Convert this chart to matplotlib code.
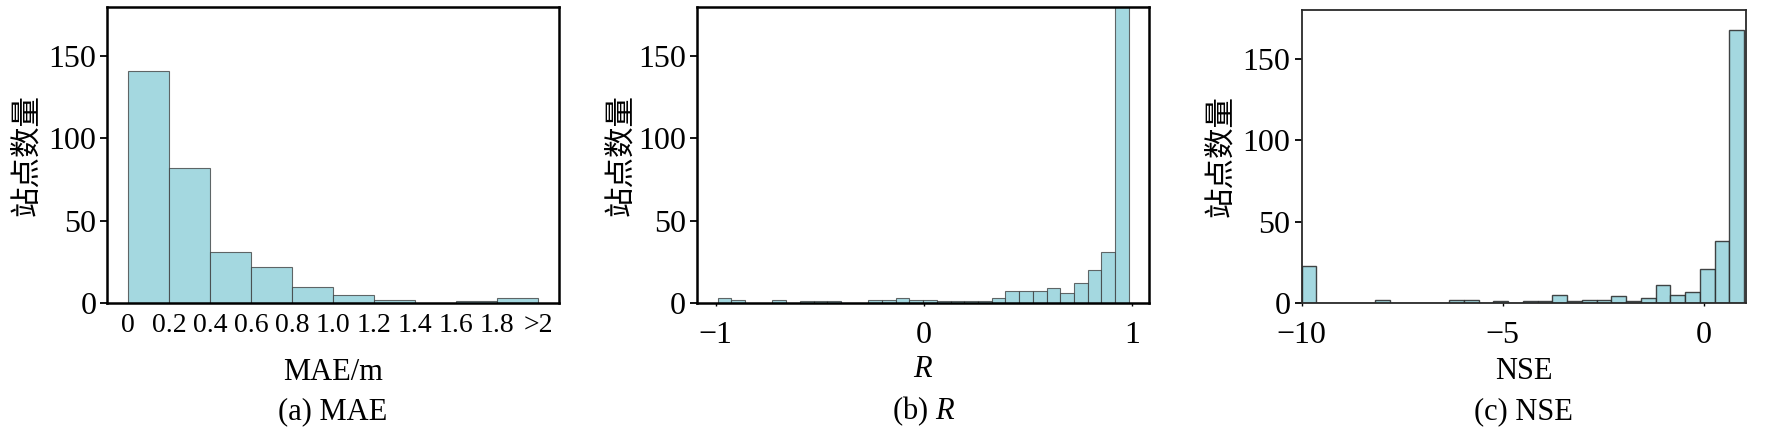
import numpy as np
import matplotlib
matplotlib.use("Agg")
import matplotlib.pyplot as plt

plt.rcParams['font.family'] = ['Liberation Serif', 'Noto Sans CJK SC']
plt.rcParams['mathtext.fontset'] = 'custom'
plt.rcParams['mathtext.rm'] = 'Liberation Serif'
plt.rcParams['mathtext.it'] = 'Liberation Serif:italic'

# --- data ---
# (a) MAE, bins of 0.2 m, last bin labelled ">2"
mae_edges = [0.0, 0.2, 0.4, 0.6, 0.8, 1.0, 1.2, 1.4, 1.6, 1.8, 2.0]
mae_counts = [141, 82, 31, 22, 10, 5, 2, 0, 1, 3]
mae_ticklabels = ['0', '0.2', '0.4', '0.6', '0.8', '1.0', '1.2', '1.4', '1.6', '1.8', '>2']

# (b) R, 30 bins between the min and max of R
r_lo, r_hi = -0.99, 0.983
r_counts = [3, 2, 0, 0, 2, 0, 1, 1, 1, 0,
            0, 2, 2, 3, 2, 2, 1, 1, 1, 1,
            3, 7, 7, 7, 9, 6, 12, 20, 31, 185]

# (c) NSE clipped at -10, 30 bins
nse_lo, nse_hi = -10.0, 0.995
nse_counts = [23, 0, 0, 0, 0, 2, 0, 0, 0, 0,
              2, 2, 0, 1, 0, 1, 1, 5, 1, 2,
              2, 4, 1, 3, 11, 5, 7, 21, 38, 168]

ylabel = '站点数量'
fill = '#a4d8e0'
edge = (0.22, 0.22, 0.22, 0.75)

fig = plt.figure(figsize=(17.66, 4.38), dpi=100)
ax_a = fig.add_axes([0.0608, 0.3082, 0.2556, 0.6765])
ax_b = fig.add_axes([0.3947, 0.3082, 0.2561, 0.6765])
ax_c = fig.add_axes([0.7371, 0.3082, 0.2515, 0.6690])

# (a)
ax_a.hist(mae_edges[:-1], bins=mae_edges, weights=mae_counts,
          color=fill, edgecolor=edge, linewidth=0.8)
ax_a.set_xlim(-0.1, 2.1)
ax_a.set_xticks(mae_edges)
ax_a.set_xticklabels(mae_ticklabels)
ax_a.tick_params(axis='x', length=0, pad=7, labelsize=20)

# (b)
r_edges = np.linspace(r_lo, r_hi, len(r_counts) + 1)
ax_b.hist(r_edges[:-1], bins=r_edges, weights=r_counts,
          color=fill, edgecolor=edge, linewidth=0.8)
span = r_hi - r_lo
ax_b.set_xlim(r_lo - 0.05 * span, r_hi + 0.05 * span)
ax_b.set_xticks([-1, 0, 1])
ax_b.tick_params(axis='x', length=2, width=1, pad=11, labelsize=23)

# (c)
nse_edges = np.linspace(nse_lo, nse_hi, len(nse_counts) + 1)
ax_c.hist(nse_edges[:-1], bins=nse_edges, weights=nse_counts,
          color=fill, edgecolor=(0.15, 0.15, 0.15, 0.85), linewidth=1.0)
ax_c.set_xlim(-10, 1.04)
ax_c.set_xticks([-10, -5, 0])
ax_c.tick_params(axis='x', length=2, width=1, pad=11, labelsize=23)

xlabels = ['MAE/m', '$R$', 'NSE']
captions = ['(a) MAE', '(b) $R$', '(c) NSE']
ylab_x = [-0.180, -0.168, -0.182]
xlab_y = [-0.233, -0.226, -0.235]

for i, ax in enumerate([ax_a, ax_b, ax_c]):
    ax.set_ylim(0, 180)
    ax.set_yticks([0, 50, 100, 150])
    ax.tick_params(axis='y', direction='out', length=5, width=1.3,
                   pad=3, labelsize=23)
    for s in ax.spines.values():
        if i == 2:
            s.set_linewidth(1.3)
            s.set_color('#2a2a2a')
        else:
            s.set_linewidth(1.8)
    ax.set_ylabel(ylabel, fontsize=22, family=['Noto Sans CJK SC'])
    ax.yaxis.set_label_coords(ylab_x[i], 0.5)
    ax.yaxis.label.set_va('center')
    ax.set_xlabel(xlabels[i], fontsize=22)
    ax.xaxis.set_label_coords(0.5, xlab_y[i])
    ax.xaxis.label.set_va('center')
    box = ax.get_position()
    fig.text(box.x0 + box.width / 2, 0.061, captions[i], fontsize=22,
             ha='center', va='center')

fig.savefig('out.png', dpi=100)
